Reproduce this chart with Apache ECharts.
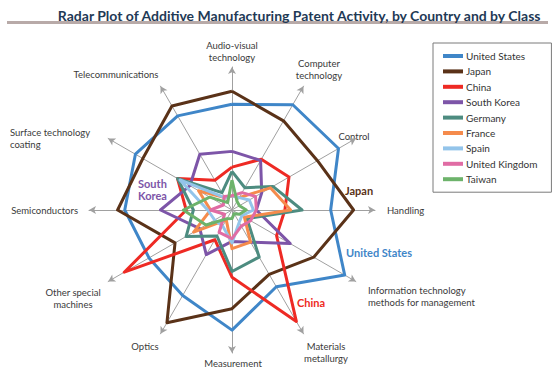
<!DOCTYPE html>
<html>
<head>
<meta charset="utf-8">
<script src="https://cdn.jsdelivr.net/npm/echarts@6/dist/echarts.min.js"></script>
<style>
html,body{margin:0;padding:0;background:#fff;}
#chart{width:553px;height:369px;}
</style>
</head>
<body>
<div id="chart"></div>
<script>
// Axes, counter-clockwise from the top
var classes = ["Audio-visual technology","Telecommunications","Surface technology coating","Semiconductors","Other special machines","Optics","Measurement","Materials metallurgy","Information technology methods for management","Handling","Control","Computer technology"];
var countries = ["United States","Japan","China","South Korea","Germany","France","Spain","United Kingdom","Taiwan"];
var colors = ["#3f86c8","#5a3218","#ee2a24","#7d55a8","#4d8c80","#f58b4c","#93c4ea","#e06ca4","#6db36b"];

var unitedStates  = [74,76,78,75,67,69,84,62,91,69,86,85];
var japan         = [83,84,72,80,46,91,69,52,66,85,69,72];
var china         = [30,24,44,32,87,24,47,90,36,37,46,41];
var southKorea    = [41,45,34,50,26,36,22,26,47,17,24,40];
var germany       = [27,14,44,27,37,21,43,38,12,49,33,18];
var france        = [10,10,27,15,31,8,27,26,10,41,31,10];
var spain         = [10,10,42,17,14,13,23,10,8,15,14,10];
var unitedKingdom = [10,11,7,15,6,18,20,13,15,17,19,14];
var taiwan        = [21,6,18,34,21,7,6,3,6,10,6,7];
var axisMax = 100;

var seriesValues = [unitedStates,japan,china,southKorea,germany,france,spain,unitedKingdom,taiwan];

var FONT = "Lato, 'Open Sans', sans-serif";
var chart = echarts.init(document.getElementById('chart'), null, {renderer:'svg'});

var series = countries.map(function(name, i){
  return {
    type:'radar',
    name:name,
    symbol:'none',
    lineStyle:{color:colors[i], width:3},
    itemStyle:{color:colors[i]},
    data:[{value:seriesValues[i], name:name}]
  };
});

function label(text, x, y, align){
  return {type:'text', x:x, y:y, style:{text:text, fill:'#3a3a3a', font:'9.5px '+FONT, textAlign:align, textVerticalAlign:'middle', lineHeight:12}};
}
function note(text, x, y, color){
  return {type:'text', x:x, y:y, style:{text:text, fill:color, font:'bold 11px '+FONT, textAlign:'left', textVerticalAlign:'middle'}};
}

chart.setOption({
  animation:false,
  color:colors,
  title:{
    text:'Radar Plot of Additive Manufacturing Patent Activity, by Country and by Class',
    right:5, top:3,
    textStyle:{fontFamily:FONT, fontSize:14, fontWeight:'bold', color:'#1f3a56'}
  },
  legend:{
    orient:'vertical',
    left:433, top:43,
    padding:[7,14,7,10],
    borderColor:'#7a7a7a', borderWidth:1,
    itemWidth:20, itemHeight:4, itemGap:3.4,
    icon:'rect',
    textStyle:{fontFamily:FONT, fontSize:10, color:'#333', lineHeight:12, padding:[0,0,0,-2]},
    data:countries
  },
  radar:{
    center:[232,210],
    radius:143,
    startAngle:90,
    shape:'polygon',
    indicator:classes.map(function(c){return {name:c, max:axisMax, min:0};}),
    axisName:{show:false},
    splitLine:{show:false},
    splitArea:{show:false},
    axisLine:{lineStyle:{color:'#a0a0a0', width:1}, symbol:['none','arrow'], symbolSize:[6,7]},
    axisTick:{show:false},
    axisLabel:{show:false}
  },
  series:series,
  graphic:[
    {type:'rect', shape:{x:7,y:21,width:541,height:3}, style:{fill:'#b8aaa8'}},
    label('Audio-visual\ntechnology',232,51,'center'),
    label('Computer\ntechnology',319,69,'center'),
    label('Control',354,136,'center'),
    label('Handling',387,210,'left'),
    label('Information technology\nmethods for management',368,296,'left'),
    label('Materials\nmetallurgy',326,352,'center'),
    label('Measurement',233,363,'center'),
    label('Optics',145,346,'center'),
    label('Other special\nmachines',73,298,'center'),
    label('Semiconductors',78,210,'right'),
    label('Surface technology\ncoating',10,138,'left'),
    label('Telecommunications',116,74,'center'),
    note('South',138,183,colors[3]),
    note('Korea',138,195,colors[3]),
    note('Japan',345,190,colors[1]),
    note('United States',346,252,colors[0]),
    note('China',297,302,colors[2])
  ]
});
</script>
</body>
</html>
